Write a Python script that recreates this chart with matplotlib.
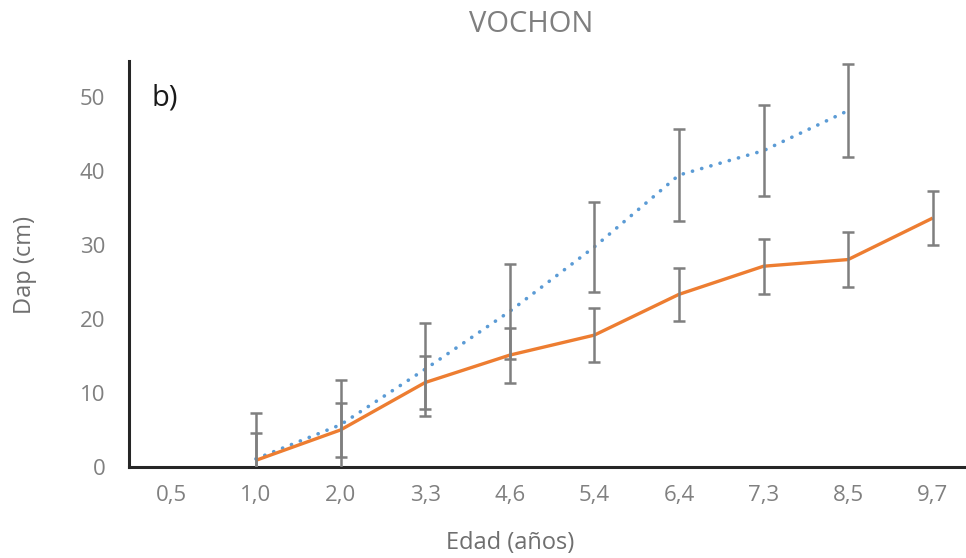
import numpy as np
import matplotlib
matplotlib.use("Agg")
import matplotlib.pyplot as plt

plt.rcParams['font.family'] = ['Open Sans', 'DejaVu Sans']

# categories (edad, años) and series values
edades = ["0,5", "1,0", "2,0", "3,3", "4,6", "5,4", "6,4", "7,3", "8,5", "9,7"]
dap_azul = [None, 1.1, 5.7, 13.2, 21.0, 29.7, 39.4, 42.7, 48.1, None]
err_azul = [None, 6.2, 6.1, 6.3, 6.4, 6.1, 6.2, 6.1, 6.3, None]
dap_naranja = [None, 0.9, 5.0, 11.4, 15.1, 17.8, 23.3, 27.1, 28.0, 33.6]
err_naranja = [None, 3.7, 3.7, 3.6, 3.7, 3.6, 3.6, 3.7, 3.7, 3.65]

def to_arr(v):
    return np.array([np.nan if a is None else a for a in v], dtype=float)

x = np.arange(len(edades))
ya, ea = to_arr(dap_azul), to_arr(err_azul)
yn, en = to_arr(dap_naranja), to_arr(err_naranja)

W, H = 966, 558
fig = plt.figure(figsize=(W / 100, H / 100), dpi=100)
ax = fig.add_axes([129 / W, (H - 467) / H, (975 - 129) / W, (467 - 61) / H])

grey = '#7f7f7f'
ax.plot(x, ya, color='#5b9bd5', lw=2.6, linestyle=(0, (0.05, 2.6)),
        dash_capstyle='round', zorder=2)
ax.plot(x, yn, color='#ed7d31', lw=2.4, solid_capstyle='butt', zorder=2)
ax.errorbar(x, ya, yerr=ea, fmt='none', ecolor=grey, elinewidth=1.8,
            capsize=4.5, capthick=1.8, zorder=3)
ax.errorbar(x, yn, yerr=en, fmt='none', ecolor=grey, elinewidth=1.8,
            capsize=4.5, capthick=1.8, zorder=3)

ax.set_xlim(-0.5, 9.5)
ax.set_ylim(0, 54.8)
ax.set_xticks(x)
ax.set_xticklabels(edades)
ax.set_yticks([0, 10, 20, 30, 40, 50])
ax.tick_params(axis='both', length=0, labelsize=16, labelcolor='#808080')
ax.tick_params(axis='y', pad=17)
ax.tick_params(axis='x', pad=13)

for s in ['top', 'right']:
    ax.spines[s].set_visible(False)
for s in ['left', 'bottom']:
    ax.spines[s].set_color('#262626')
    ax.spines[s].set_linewidth(2.2)

ax.text(-0.23, 49.8, "b)", fontsize=21, color='#1a1a1a', va='center')

fig.text(531 / W, 1 - 25 / H, "VOCHON", ha='center', va='center',
         fontsize=21, color='#7f7f7f')
fig.text(25 / W, 1 - 265 / H, "Dap (cm)", ha='center', va='center',
         rotation=90, fontsize=17, color='#6f6f6f')
fig.text(510 / W, 1 - 543 / H, "Edad (años)", ha='center', va='center',
         fontsize=17, color='#6f6f6f')

fig.savefig("out.png", dpi=100)
